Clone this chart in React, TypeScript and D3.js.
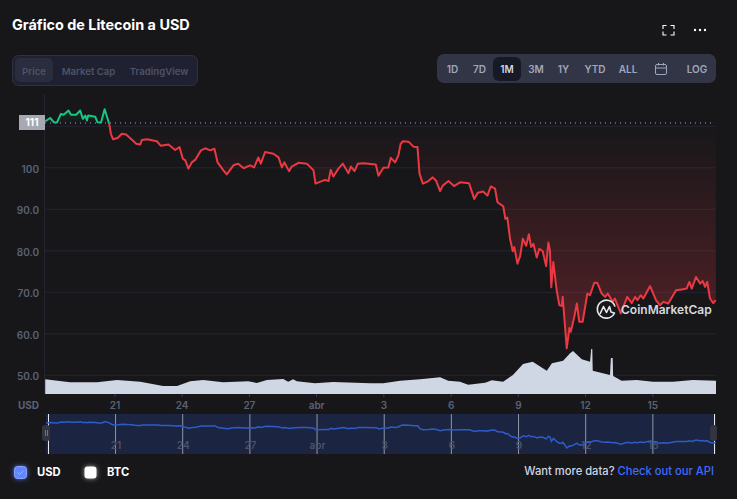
import React from 'react';
import * as d3 from 'd3';

// day offsets count from the "21" tick, the axis spaces its labels every 3 units
const priceDays = [-3.11,-2.89,-2.71,-2.59,-2.41,-2.29,-2.07,-1.96,-1.73,-1.55,-1.43,-1.32,-1.25,-1.19,-0.88,-0.78,-0.62,-0.46,-0.29,-0.24,-0.18,-0.09,0.12,0.31,0.5,0.71,0.95,1.13,1.2,1.43,1.87,2.05,2.39,2.69,2.88,3.03,3.14,3.28,3.43,3.58,3.84,4.03,4.25,4.44,4.58,4.84,4.99,5.29,5.5,5.74,6.03,6.21,6.4,6.51,6.7,7.07,7.3,7.45,7.56,7.77,7.89,8.19,8.56,8.86,8.95,9.38,9.53,9.63,9.75,9.97,10.17,10.42,10.53,10.69,10.84,11.09,11.64,11.76,11.98,12.2,12.31,12.5,12.65,12.75,12.85,13.1,13.32,13.5,13.59,13.74,13.99,14.18,14.33,14.51,14.63,14.88,15.13,15.4,15.8,16.03,16.19,16.43,16.62,16.77,16.96,17.07,17.33,17.42,17.51,17.63,17.75,17.82,17.96,18.08,18.2,18.35,18.47,18.57,18.67,18.82,18.94,19.09,19.24,19.34,19.41,19.47,19.56,19.71,19.83,19.94,19.98,20.16,20.28,20.34,20.49,20.61,20.72,20.87,21.08,21.2,21.39,21.52,21.72,21.87,21.99,22.21,22.31,22.57,22.86,23.06,23.21,23.31,23.46,23.58,23.88,24.14,24.32,24.47,24.69,25.04,25.29,25.51,25.63,25.74,25.93,26.11,26.23,26.33,26.43,26.55,26.7,26.81];
const priceValues = [111.2,112,110.9,110.9,113,112.8,113.8,112.8,112.8,113.8,111.8,112.6,111.4,112.6,112.3,111,110.9,114.1,111.2,110.2,108.2,106.9,107.2,108.2,108,107,105.8,105.6,106.7,106.9,106.4,105.3,105.6,104.3,105,102.2,101.8,99.8,101.3,101.9,104.2,104.7,104.2,104.6,101.3,99.4,98.4,100.6,101,99.9,100.6,100.1,102.5,101,103.8,103.4,102.5,100.1,101.3,99.2,100.3,101.2,101,99.4,96.2,97.1,96.8,99.5,97.9,99.8,101,98.7,100.3,99.2,101,101.1,100.8,98.1,100,100.1,102.4,101.3,103,105.8,106.4,106.3,105.1,105,98.6,96.2,96.8,97.7,96.9,94.4,95.7,96.8,95.6,96.5,96.3,92.5,94,94.3,93.3,95.5,95,91.7,90.7,87.7,88,82.9,79.9,80.9,76.9,78.7,82.9,81.2,84,80.9,81.7,78.4,80.5,79.9,76.3,82,80.1,71.2,77.3,70.5,66.9,66.7,68.9,56.5,61.4,60.5,63.9,67.3,62.9,62.9,69.7,69.3,72.3,72.3,69.7,68.9,69.7,67.7,68.5,64.9,68.9,67.4,68.9,68.1,69.3,68.5,71.5,68.1,66.9,67.7,67.3,70.5,70.7,70.9,72.5,70.9,73.7,72.1,72.7,71.3,72.5,68.5,67.4,68.1];
const baselinePrice = 110.8;

const volumeDays = [-3.11,-2,-0.8,0.09,1.13,2.15,2.77,3.36,3.94,4.83,5.95,6.33,6.78,7.51,7.73,7.95,8.12,8.93,9.74,11.39,11.97,12.73,13.62,14.51,14.87,15.4,15.76,16.52,16.82,17.32,17.76,18.21,18.64,19.27,19.5,20,20.31,20.44,20.83,21.2,21.25,21.3,21.32,22.09,22.13,22.21,22.23,22.61,23.28,24.01,24.9,25.79,26.82];
const volumeValues = [1.47,1.17,1.17,1.4,1.23,0.8,0.8,1.27,1.4,1.17,1.27,1.1,1.4,1.5,1.23,1.47,1.27,1.07,1.2,1.07,1.07,1.33,1.47,1.67,1.33,1.23,0.93,1.13,1.37,1.23,1.9,3,3.23,2.33,3.07,3.33,4.07,4.3,3.47,3.23,4.5,4.5,2.33,1.9,3.6,3.6,1.8,1.33,1.4,1.23,1.23,1.4,1.33];

const priceTicks = [110, 100, 90, 80, 70, 60, 50];
const dayTicks = [0, 3, 6, 9, 12, 15, 18, 21, 24];
const dayLabels = ['21', '24', '27', 'abr', '3', '6', '9', '12', '15'];
const chartTabs = ['Price', 'Market Cap', 'TradingView'];
const rangeButtons = ['1D', '7D', '1M', '3M', '1Y', 'YTD', 'ALL', 'LOG'];
const rangeCenters = [452.5, 479.5, 507, 536, 563.5, 595, 628, 697];
const tabCenters = [34, 88.5, 159];

const font = 'Inter, sans-serif';
const bg = '#17171a';

const x = d3.scaleLinear().domain([-3.12, 26.82]).range([45, 716]);
const y = d3.scaleLinear().domain([50, 110]).range([375.3, 126.3]);
const yVol = d3.scaleLinear().domain([0, 5]).range([394, 344]);
const xNav = d3.scaleLinear().domain([-3.12, 26.82]).range([45.7, 716]);
const yNav = d3.scaleLinear().domain([56.5, 111]).range([448, 423]);

const series = priceDays.map((d, i) => ({ d, v: priceValues[i] }));
const volume = volumeDays.map((d, i) => ({ d, v: volumeValues[i] }));

const priceLine = d3.line<{ d: number; v: number }>().x(p => x(p.d)).y(p => y(p.v));
const priceArea = d3.area<{ d: number; v: number }>().x(p => x(p.d)).y0(y(baselinePrice)).y1(p => y(p.v));
const volumeArea = d3.area<{ d: number; v: number }>().x(p => x(p.d)).y0(yVol(0)).y1(p => yVol(p.v));
const navLine = d3.line<{ d: number; v: number }>().x(p => xNav(p.d)).y(p => yNav(p.v));

const App: React.FC = () => {
  const base = y(baselinePrice);
  return (
    <div style={{ position: 'fixed', left: 0, top: 0, width: 737, height: 499, overflow: 'hidden', background: bg }}>
      <svg width={737} height={499} style={{ display: 'block', fontFamily: font }}>
        <defs>
          <linearGradient id="redFill" gradientUnits="userSpaceOnUse" x1="0" x2="0" y1={base} y2={y(56.5)}>
            <stop offset="0" stopColor="#ea3943" stopOpacity={0} />
            <stop offset="1" stopColor="#ea3943" stopOpacity={0.3} />
          </linearGradient>
          <linearGradient id="greenFill" gradientUnits="userSpaceOnUse" x1="0" x2="0" y1={y(114.1)} y2={base}>
            <stop offset="0" stopColor="#16c784" stopOpacity={0.14} />
            <stop offset="1" stopColor="#16c784" stopOpacity={0} />
          </linearGradient>
          <clipPath id="above"><rect x={45} y={90} width={672} height={base - 90} /></clipPath>
          <clipPath id="below"><rect x={45} y={base} width={672} height={394 - base} /></clipPath>
          <filter id="glow" x="-60%" y="-60%" width="220%" height="220%">
            <feGaussianBlur stdDeviation="2.5" />
          </filter>
        </defs>

        <rect width={737} height={499} fill={bg} />

        <text x={12} y={30} fontSize={14.4} fontWeight={700} fill="#fff">Gráfico de Litecoin a USD</text>

        {/* top right icons */}
        <path d="M663 29v-3.5h3.5M670.5 25.5h3.5v3.5M674 31.5v3.5h-3.5M666.5 35H663v-3.5" fill="none" stroke="#fff" strokeWidth={1.1} />
        {[695, 700, 705].map(c => <circle key={c} cx={c} cy={30} r={1.2} fill="#fff" />)}

        {/* tabs */}
        <rect x={12.5} y={55.5} width={185} height={30} rx={6} fill="#1f2130" stroke="#2e3142" />
        <rect x={15} y={58} width={38} height={24} rx={5} fill="#2a2d3d" />
        {chartTabs.map((t, i) => (
          <text key={t} x={tabCenters[i]} y={74.5} textAnchor="middle" fontSize={9.6} fontWeight={600} fill="#4d5368">{t}</text>
        ))}

        {/* range buttons */}
        <rect x={437} y={54} width={279} height={29} rx={7} fill="#323546" />
        <rect x={493} y={57} width={28} height={24} rx={6} fill="#171924" />
        {rangeButtons.map((t, i) => (
          <text key={t} x={rangeCenters[i]} y={72.5} textAnchor="middle" fontSize={10} fontWeight={600} fill={t === '1M' ? '#cfd6e4' : '#a1a7bb'}>{t}</text>
        ))}
        <g fill="none" stroke="#a1a7bb" strokeWidth={1}>
          <rect x={655.5} y={64.5} width={11} height={10} rx={1.5} />
          <path d="M655.5 68h11M658.5 63v2.5M663.5 63v2.5" />
        </g>

        {/* grid */}
        {priceTicks.map(t => (
          <line key={t} x1={45} x2={716} y1={y(t)} y2={y(t)} stroke="#242531" />
        ))}
        <line x1={44.5} x2={44.5} y1={94} y2={394} stroke="#242531" />

        {/* the 110 label sits behind the 111 price box in the reference */}
        {priceTicks.filter(t => t !== 110).map(t => (
          <text key={t} x={39} y={y(t) + 5} textAnchor="end" fontSize={10} fontWeight={600} fill="#5b6275">
            {t === 100 ? t : t.toFixed(1)}
          </text>
        ))}

        {/* price */}
        <path d={priceArea(series) ?? ''} fill="url(#redFill)" clipPath="url(#below)" />
        <path d={priceArea(series) ?? ''} fill="url(#greenFill)" clipPath="url(#above)" />
        <line x1={45} x2={713} y1={base} y2={base} stroke="#a1a7bb" strokeWidth={1} strokeDasharray="1 4" />
        <path d={priceLine(series) ?? ''} fill="none" stroke="#ea3943" strokeWidth={2} strokeLinejoin="round" clipPath="url(#below)" />
        <path d={priceLine(series) ?? ''} fill="none" stroke="#16c784" strokeWidth={2} strokeLinejoin="round" clipPath="url(#above)" />

        <rect x={19} y={115} width={26} height={15} fill="#a6a9b3" />
        <text x={32} y={126} textAnchor="middle" fontSize={10} fontWeight={700} fill="#fff">111</text>

        {/* volume */}
        <path d={volumeArea(volume) ?? ''} fill="#cfd6e4" />

        {/* watermark */}
        <g fill="none" stroke="#e6e8ec" strokeWidth={1.6}>
          <path d="M614.5 313a9 9 0 1 1 0.3-7" strokeLinecap="round" />
          <path d="M600 314l3.5-7.5 3 6 3-6 1.5 5.5 3 1" strokeLinejoin="round" />
        </g>
        <text x={621} y={314} fontSize={12} fontWeight={600} fill="#d5d8de">CoinMarketCap</text>

        {/* x axis */}
        <text x={39} y={408.5} textAnchor="end" fontSize={10} fontWeight={700} fill="#5b6275">USD</text>
        {dayTicks.map((d, i) => (
          <g key={d}>
            <line x1={x(d)} x2={x(d)} y1={394} y2={397} stroke="#3a3c4c" />
            <text x={x(d)} y={408.5} textAnchor="middle" fontSize={10} fontWeight={600} fill="#5b6275">{dayLabels[i]}</text>
          </g>
        ))}

        {/* navigator */}
        <rect x={46} y={414} width={670} height={40} fill="#1b2440" />
        {dayTicks.map(d => (
          <line key={d} x1={xNav(d)} x2={xNav(d)} y1={414} y2={454} stroke="#9096a8" strokeWidth={1} />
        ))}
        <line x1={48.5} x2={48.5} y1={414} y2={454} stroke="#e6e8ec" />
        <line x1={714.5} x2={714.5} y1={414} y2={454} stroke="#e6e8ec" />
        {dayTicks.map((d, i) => (
          <text key={d} x={xNav(d) + 0.5} y={449} textAnchor="middle" fontSize={10} fontWeight={600} fill="#4d5368">{dayLabels[i]}</text>
        ))}
        <path d={navLine(series) ?? ''} fill="none" stroke="#2f5bc8" strokeWidth={1.5} />
        <rect x={42} y={425} width={8} height={16} rx={3} fill="#33343f" />
        <path d="M45.5 430v6M47.5 430v6" stroke="#8a8d99" strokeWidth={0.7} />
        <rect x={710} y={425} width={7} height={16} rx={3} fill="#33343f" />

        {/* legend */}
        <rect x={14.5} y={466.5} width={12} height={12} rx={3} fill="#6188ff" filter="url(#glow)" />
        <rect x={14.5} y={466.5} width={12} height={12} rx={3} fill="#6188ff" stroke="#8aa5ff" />
        <path d="M17.5 472.5l2 2 4-4" fill="none" stroke="#9db4ff" strokeWidth={1} />
        <text x={37} y={476} fontSize={11.2} fontWeight={700} fill="#fff">USD</text>
        <rect x={84.5} y={466.5} width={12} height={12} rx={3} fill="#fff" filter="url(#glow)" opacity={0.6} />
        <rect x={84.5} y={466.5} width={12} height={12} rx={3} fill="#fff" />
        <text x={107} y={476} fontSize={11.2} fontWeight={700} fill="#fff">BTC</text>

        <text x={714} y={475} textAnchor="end" fontSize={11.2} fontWeight={500} fill="#cfd6e4">
          Want more data? <tspan fill="#3e6bff">Check out our API</tspan>
        </text>
      </svg>
    </div>
  );
};

export default App;
